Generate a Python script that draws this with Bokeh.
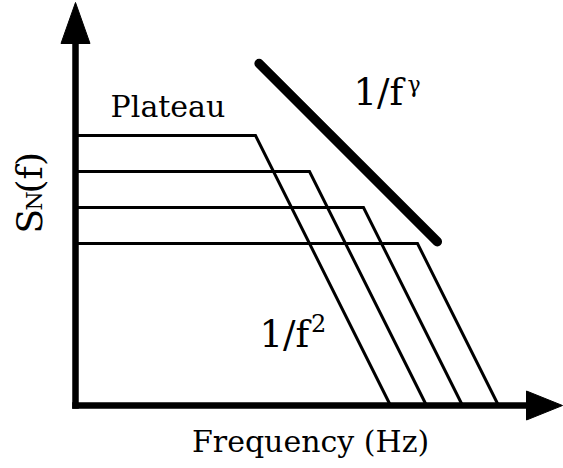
from math import pi, cos, sin

from bokeh.plotting import figure
from bokeh.models import Range1d
from bokeh.core.properties import value
from bokeh.embed import file_html
from bokeh.resources import INLINE

# Schematic noise spectra on log-log axes (units: decades from the origin)
plateau_level = [15, 13, 11, 9]      # log S_N on each plateau
corner_freq = [10, 13, 16, 19]       # log f where each roll-off begins
rolloff_exponent = 2                 # 1/f^2 above the corner

# Reference 1/f^gamma slope line (gamma = 1)
gamma_f = [10.2, 20.1]
gamma_s = [19.0, 9.1]

FONT = "DejaVu Serif"
PX = 18.0  # screen pixels per decade
BASELINE_SHIFT = 0.37  # em; lifts anchors so glyphs sit on the given baseline

W, H = 563, 468
x0_px, y0_px = 75, 405  # origin position on the canvas

p = figure(
    width=W, height=H,
    x_range=Range1d(-x0_px / PX, (W - x0_px) / PX),
    y_range=Range1d(-(H - y0_px) / PX, y0_px / PX),
    output_backend="svg", toolbar_location=None,
    x_axis_location=None, y_axis_location=None,
    min_border=0, outline_line_color=None,
    background_fill_color="white", border_fill_color="white",
)
p.xgrid.visible = False
p.ygrid.visible = False

# Plateau + 1/f^2 roll-off for each spectrum
xs, ys = [], []
for level, fc in zip(plateau_level, corner_freq):
    f_end = fc + level / rolloff_exponent
    xs.append([0, fc, f_end])
    ys.append([level, level, 0])
p.multi_line(xs=xs, ys=ys, line_color="black", line_width=3, line_join="miter")

# 1/f^gamma guide
p.line(gamma_f, gamma_s, line_color="black", line_width=9.5, line_cap="round")

# Axes drawn as arrows
head_len = 36 / PX
head_half = 14.5 / PX
y_top = (y0_px - 2) / PX
x_right = (W - x0_px - 1) / PX
over = 3.3 / PX
p.segment(x0=[0, -over], y0=[-over, 0],
          x1=[0, x_right - head_len], y1=[y_top - 41 / PX, 0],
          line_color="black", line_width=6.5)
p.patches(
    xs=[[-head_half, head_half, 0], [x_right - head_len, x_right - head_len, x_right]],
    ys=[[y_top - 41 / PX, y_top - 41 / PX, y_top], [head_half, -head_half, 0]],
    fill_color="black", line_color="black", line_width=1,
)

def label(x, y, text, size, angle=0.0, align="left"):
    # (x, y) is the start of the baseline; move the anchor "up" in text space
    d = BASELINE_SHIFT * size / PX
    ax = x - d * sin(angle)
    ay = y + d * cos(angle)
    p.text(x=[ax], y=[ay], text=[text], text_font=value(FONT),
           text_font_size=f"{size}px", text_color="black",
           text_align=align, text_baseline="alphabetic", angle=angle)

label(1.95, 16.0, "Plateau", 30)
label(15.44, 16.61, "1/f", 37)
label(18.44, 17.4, "\u03b3", 22)
label(10.22, 3.17, "1/f", 37)
label(13.08, 4.1, "2", 24)
label(13.06, -2.61, "Frequency (Hz)", 30, align="center")

# Rotated S_N(f) axis title
label(-1.83, 9.56, "S", 36, angle=pi / 2)
label(-1.83, 10.83, "N", 22, angle=pi / 2)
label(-1.83, 11.78, "(f)", 36, angle=pi / 2)

open("out.html", "w").write(file_html(p, INLINE))
